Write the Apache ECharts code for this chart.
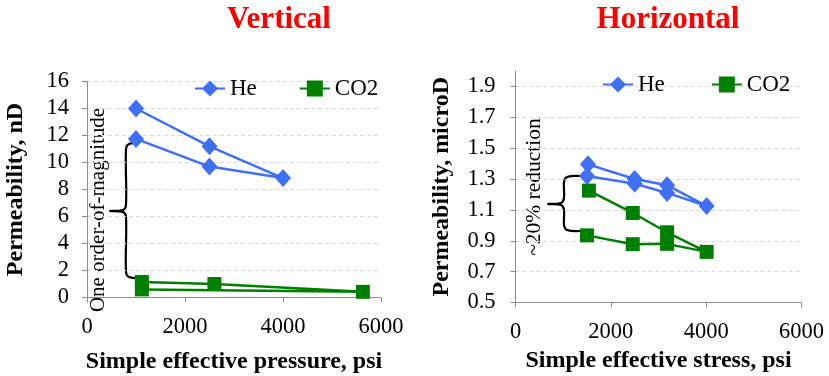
<!DOCTYPE html>
<html>
<head>
<meta charset="utf-8">
<script src="https://cdn.jsdelivr.net/npm/echarts@6/dist/echarts.min.js"></script>
<style>
html,body{margin:0;padding:0;background:#fff}
#main{width:829px;height:376px}
</style>
</head>
<body>
<div id="main"></div>
<script>
// Vertical sample, permeability in nD (loading then unloading)
var vHe  = [[1000,14.0],[2500,11.2],[4000,8.85],[2500,9.7],[1000,11.75]];
var vCO2 = [[1120,1.15],[2600,1.0],[5630,0.42],[1120,0.6]];
// Horizontal sample, permeability in microD
var hHe  = [[1520,1.395],[2500,1.30],[3180,1.26],[4010,1.125],[3180,1.21],[2500,1.27],[1500,1.32]];
var hCO2 = [[1540,1.225],[2460,1.08],[3180,0.955],[4010,0.828],[3180,0.88],[2460,0.878],[1500,0.935]];

var xTicks = [0, 6000, 2000];          // min, max, step
var vTicks = [0, 16, 2];
var hTicks = [0.5, 2.0, 0.2];

var FONT = 'Liberation Serif';
var BLUE = '#3f6ff5', GREEN = '#008000';

var myChart = echarts.init(document.getElementById('main'));

function xAx(grid, name, gap, margin){
    return {
        type:'value', gridIndex:grid, min:xTicks[0], max:xTicks[1], interval:xTicks[2],
        name:name, nameLocation:'middle', nameGap:gap,
        nameTextStyle:{fontFamily:FONT, fontSize:24, fontWeight:'bold', color:'#000'},
        axisLine:{show:true, lineStyle:{color:'#8c8c8c', width:1}},
        axisTick:{show:true, inside:false, length:5, lineStyle:{color:'#8c8c8c'}},
        axisLabel:{fontFamily:FONT, fontSize:22.5, color:'#000', margin:margin,
            formatter:function(v){return String(v);}},
        splitLine:{show:false}
    };
}
function yAx(grid, t, name, gap, margin, fmt){
    return {
        type:'value', gridIndex:grid, min:t[0], max:t[1], interval:t[2],
        name:name, nameLocation:'middle', nameGap:gap,
        nameTextStyle:{fontFamily:FONT, fontSize:24, fontWeight:'bold', color:'#000'},
        axisLine:{show:true, lineStyle:{color:'#8c8c8c', width:1}},
        axisTick:{show:true, inside:false, length:5, lineStyle:{color:'#8c8c8c'}},
        axisLabel:{fontFamily:FONT, fontSize:22.5, color:'#000', margin:margin, showMaxLabel: t[0]===0,
            formatter:fmt},
        splitLine:{show:true, showMinLine:false, showMaxLine: t[0]===0, lineStyle:{color:'#d9d9d9', type:[4,3], width:1}}
    };
}
function brace(x, yTop, yMid, yBot, tipX, hookX){
    return {
        type:'polyline', silent:true,
        shape:{smooth:0.35, points:[
            [hookX,yTop],[x+3,yTop+1],[x,yTop+6],
            [x,yMid-6],[x-3,yMid-1],[tipX,yMid],[x-3,yMid+1],[x,yMid+6],
            [x,yBot-6],[x+3,yBot-1],[hookX,yBot]
        ]},
        style:{stroke:'#000', lineWidth:2.2, fill:null}
    };
}
function line(name, data, idx, color, sym, size){
    return {
        name:name, type:'line', xAxisIndex:idx, yAxisIndex:idx, data:data,
        symbol:sym, symbolSize:size, showAllSymbol:true,
        lineStyle:{color:color, width:2.5}, itemStyle:{color:color},
        animation:false
    };
}

var option = {
    backgroundColor:'#fff',
    title:[
        {text:'Vertical', left:274, top:-1, textAlign:'center',
         textStyle:{fontFamily:FONT, fontSize:31, fontWeight:'bold', color:'#ff0000'}},
        {text:'Horizontal', left:663, top:-1, textAlign:'center',
         textStyle:{fontFamily:FONT, fontSize:31, fontWeight:'bold', color:'#ff0000'}}
    ],
    legend:[
        {data:['He','CO2'], left:189, top:72, itemWidth:30, itemHeight:20, itemGap:42,
         textStyle:{fontFamily:FONT, fontSize:23, color:'#000'}},
        {data:['He','CO2'], left:597, top:68, itemWidth:30, itemHeight:20, itemGap:46,
         textStyle:{fontFamily:FONT, fontSize:23, color:'#000'}}
    ],
    grid:[
        {left:87, top:81.5, width:294, height:216, outerBoundsMode:'none', containLabel:false},
        {left:515.5, top:71, width:286, height:231.5, outerBoundsMode:'none', containLabel:false}
    ],
    xAxis:[
        xAx(0, 'Simple effective pressure, psi', 52, 18),
        xAx(1, 'Simple effective stress, psi', 43, 18)
    ],
    yAxis:[
        yAx(0, vTicks, 'Permeability, nD', 59, 18, null),
        yAx(1, hTicks, 'Permeability, microD', 62, 20, function(v){return v.toFixed(1);})
    ],
    series:[
        line('He', vHe, 0, BLUE, 'diamond', [16,18]),
        line('CO2', vCO2, 0, GREEN, 'rect', 14),
        line('He', hHe, 1, BLUE, 'diamond', [16,18]),
        line('CO2', hCO2, 1, GREEN, 'rect', 14)
    ],
    graphic:[
        brace(126, 143, 211, 278, 110, 140),
        {type:'text', x:98, y:210, rotation:Math.PI/2, silent:true,
         style:{text:'One order-of-magnitude', fontFamily:FONT, fontSize:21, fill:'#000',
                textAlign:'center', textVerticalAlign:'middle'}},
        brace(564, 176, 204, 231, 548, 580),
        {type:'text', x:534, y:187, rotation:Math.PI/2, silent:true,
         style:{text:'~20% reduction', fontFamily:FONT, fontSize:21.5, fill:'#000',
                textAlign:'center', textVerticalAlign:'middle'}}
    ]
};
myChart.setOption(option);
</script>
</body>
</html>
